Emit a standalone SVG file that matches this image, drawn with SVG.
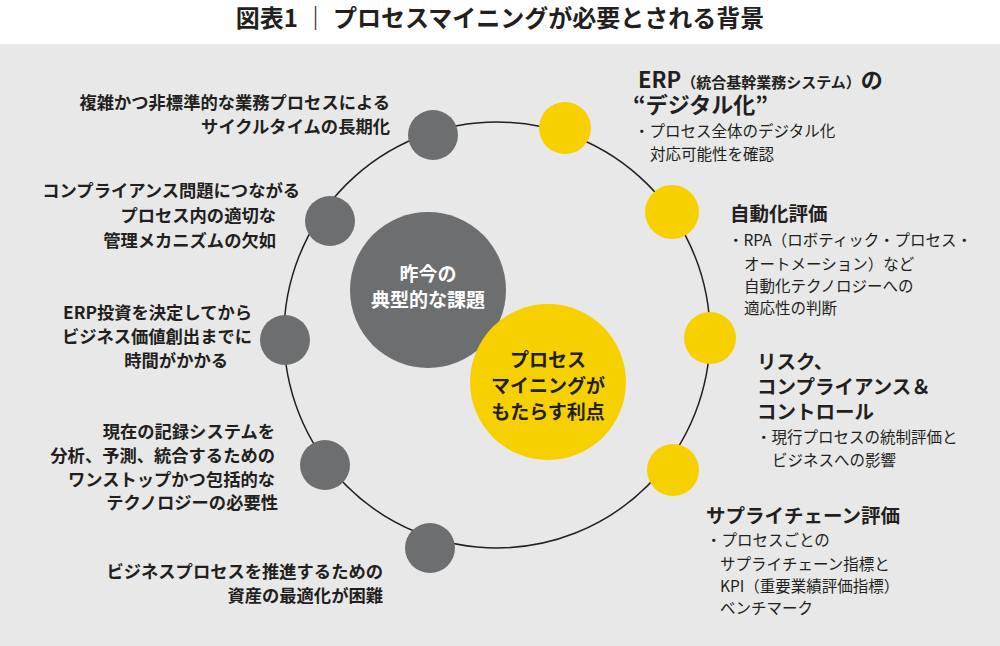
<svg xmlns="http://www.w3.org/2000/svg" width="1000" height="646" viewBox="0 0 1000 646">
<style>
text{font-family:"Noto Sans CJK JP","Noto Sans",sans-serif;fill:#231f20}
.t{font-size:24px;font-weight:bold}
.l{font-size:17.3px;font-weight:bold;text-anchor:end}
.h{font-size:19.5px;font-weight:bold}
.s{font-size:15.5px}
.c{font-size:19px;font-weight:bold;text-anchor:middle}
.g{fill:#6d6e70}.y{fill:#f7d000}
</style>
<rect width="1000" height="646" fill="#fff"/>
<rect y="44" width="1000" height="602" fill="#e8e8e8"/>
<text class="t" x="500" y="27" text-anchor="middle">図表1 ｜ プロセスマイニングが必要とされる背景</text>
<g id="connectors"><circle cx="497" cy="335" r="213" fill="none" stroke="#231f20" stroke-width="1.5"/></g>
<g id="center-gray"><circle class="g" cx="428" cy="290" r="78"/><text class="c" x="428" y="281" style="fill:#fff">昨今の</text><text class="c" x="428" y="307" style="fill:#fff">典型的な課題</text></g>
<g id="center-yellow"><circle class="y" cx="548" cy="382" r="78"/><text class="c" x="548" y="367">プロセス</text><text class="c" x="548" y="393">マイニングが</text><text class="c" x="548" y="419">もたらす利点</text></g>
<g id="n1"><circle class="g" cx="433" cy="135" r="25"/><text class="l" x="390" y="109">複雑かつ非標準的な業務プロセスによる</text><text class="l" x="390" y="133">サイクルタイムの長期化</text></g>
<g id="n2"><circle class="g" cx="330" cy="221" r="25"/><text class="l" x="300" y="197">コンプライアンス問題につながる</text><text class="l" x="276" y="222">プロセス内の適切な</text><text class="l" x="276" y="247">管理メカニズムの欠如</text></g>
<g id="n3"><circle class="g" cx="285" cy="340" r="25"/><text class="l" x="252" y="319">ERP投資を決定してから</text><text class="l" x="252" y="343">ビジネス価値創出までに</text><text class="l" x="228" y="367">時間がかかる</text></g>
<g id="n4"><circle class="g" cx="325" cy="465" r="25"/><text class="l" x="275" y="438">現在の記録システムを</text><text class="l" x="275" y="462">分析、予測、統合するための</text><text class="l" x="275" y="486">ワンストップかつ包括的な</text><text class="l" x="278" y="509">テクノロジーの必要性</text></g>
<g id="n5"><circle class="g" cx="430" cy="548" r="25"/><text class="l" x="383" y="578">ビジネスプロセスを推進するための</text><text class="l" x="383" y="602">資産の最適化が困難</text></g>
<g id="y1"><circle class="y" cx="565" cy="128" r="26"/><text class="h" x="638" y="88" style="font-size:22px">ERP<tspan style="font-size:15px">（統合基幹業務システム）</tspan>の</text><text class="h" x="633" y="113" style="font-size:22px">“デジタル化”</text><text class="s" x="634" y="137">・プロセス全体のデジタル化</text><text class="s" x="650" y="160">対応可能性を確認</text></g>
<g id="y2"><circle class="y" cx="672" cy="212" r="27"/><text class="h" x="730" y="221">自動化評価</text><text class="s" x="728" y="246">・RPA（ロボティック・プロセス・</text><text class="s" x="744" y="270">オートメーション）など</text><text class="s" x="744" y="292">自動化テクノロジーへの</text><text class="s" x="744" y="314">適応性の判断</text></g>
<g id="y3"><circle class="y" cx="710" cy="338" r="26"/><text class="h" x="757" y="369">リスク、</text><text class="h" x="757" y="394">コンプライアンス＆</text><text class="h" x="757" y="419">コントロール</text><text class="s" x="756" y="443">・現行プロセスの統制評価と</text><text class="s" x="772" y="466">ビジネスへの影響</text></g>
<g id="y4"><circle class="y" cx="673" cy="470" r="26"/><text class="h" x="706" y="523">サプライチェーン評価</text><text class="s" x="706" y="546">・プロセスごとの</text><text class="s" x="720" y="570">サプライチェーン指標と</text><text class="s" x="720" y="592">KPI（重要業績評価指標）</text><text class="s" x="720" y="614">ベンチマーク</text></g>
</svg>
